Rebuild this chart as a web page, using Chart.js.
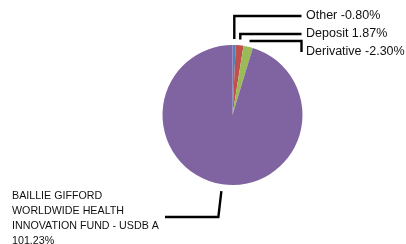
<!DOCTYPE html>
<html>
<head>
<meta charset="utf-8">
<script src="https://cdn.jsdelivr.net/npm/chart.js@4/dist/chart.umd.min.js"></script>
<style>
  html, body { margin: 0; padding: 0; background: #fff; }
  #wrap { width: 406px; height: 244px; position: relative; }
</style>
</head>
<body>
<div id="wrap"><canvas id="chart"></canvas></div>
<script>
// holdings, in drawing order (clockwise from 12 o'clock)
const labels = ["Other", "Deposit", "Derivative", "BAILLIE GIFFORD WORLDWIDE HEALTH INNOVATION FUND - USDB A"];
const weights = [-0.80, 1.87, -2.30, 101.23];
const colors = ["#4f81bd", "#c0504d", "#9bbb59", "#8064a2"];

const FONT = '"Liberation Sans", Arial, Helvetica, sans-serif';

const fmt = (v) => v.toFixed(2) + "%";

// draws leader lines + labels, excel style
const leaderLabels = {
  id: "leaderLabels",
  afterDraw(chart) {
    const ctx = chart.ctx;
    const arcs = chart.getDatasetMeta(0).data;
    ctx.save();
    ctx.strokeStyle = "#000";
    ctx.lineWidth = 2.4;
    ctx.fillStyle = "#111";
    ctx.textBaseline = "middle";

    const rightX = 301.5;
    const rightY = [16, 34, 52];

    arcs.forEach((arc, i) => {
      const mid = (arc.startAngle + arc.endAngle) / 2;
      const r = arc.outerRadius + 6;
      const sx = arc.x + Math.cos(mid) * r;
      const sy = arc.y + Math.sin(mid) * r;

      ctx.beginPath();
      if (i < 3) {
        const ly = rightY[i];
        ctx.moveTo(sx, sy);
        if (ly < sy - 3) {
          ctx.lineTo(sx, ly);
          ctx.lineTo(rightX, ly);
        } else {
          ctx.lineTo(rightX, sy);
          ctx.lineTo(rightX, ly);
        }
        ctx.stroke();
        ctx.font = "12.5px " + FONT;
        ctx.textAlign = "left";
        ctx.fillText(labels[i] + " " + fmt(weights[i]), 306, ly);
      } else {
        const ly = 217;
        ctx.moveTo(sx, sy + 1);
        ctx.lineTo(sx - 3, ly);
        ctx.lineTo(165, ly);
        ctx.stroke();
        ctx.font = "10.7px " + FONT;
        ctx.textAlign = "left";
        const lines = ["BAILLIE GIFFORD", "WORLDWIDE HEALTH", "INNOVATION FUND - USDB A", fmt(weights[i])];
        lines.forEach((t, k) => ctx.fillText(t, 12, 196 + k * 15));
      }
    });
    ctx.restore();
  }
};

new Chart(document.getElementById("chart"), {
  type: "pie",
  data: {
    labels,
    datasets: [{
      data: weights.map((w) => Math.abs(w)),
      backgroundColor: colors,
      borderWidth: 0
    }]
  },
  options: {
    responsive: true,
    maintainAspectRatio: false,
    animation: false,
    layout: { padding: { left: 130, right: 71, top: 45, bottom: 59 } },
    plugins: {
      legend: { display: false },
      tooltip: { enabled: false }
    }
  },
  plugins: [leaderLabels]
});
</script>
</body>
</html>
